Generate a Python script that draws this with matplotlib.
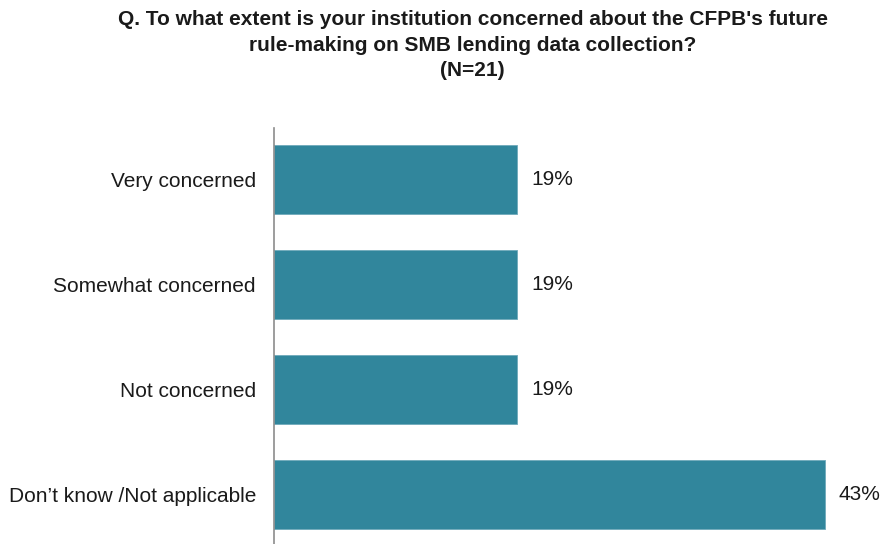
import matplotlib.pyplot as plt

# survey answers, top to bottom
categories = ['Very concerned', 'Somewhat concerned', 'Not concerned',
              "Don\u2019t know /Not applicable"]
shares = [19, 19, 19, 43]

title_text = ("Q. To what extent is your institution concerned about the CFPB's future\n"
              "rule-making on SMB lending data collection?\n(N=21)")

plt.rcParams['font.family'] = ['Liberation Sans', 'DejaVu Sans']

fig = plt.figure(figsize=(8.85, 5.44), dpi=100)
ax = fig.add_axes([0.3096, 0.0, 0.68, 0.765])

y = list(range(len(categories)))
ax.barh(y, shares, height=0.66, color='#31869C', edgecolor='#6FA9BA', linewidth=0.6)

for yi, v in zip(y, shares):
    ax.annotate(f'{v}%', (v, yi), xytext=(10, 0), textcoords='offset points',
                va='center', ha='left', fontsize=15, color='#1a1a1a')

ax.set_yticks(y)
ax.set_yticklabels(categories, fontsize=15, color='#1a1a1a')
ax.tick_params(axis='y', length=0, pad=13)
ax.set_xticks([])
ax.set_xlim(0, 47)
ax.set_ylim(3.47, -0.49)

for side in ['top', 'right', 'bottom']:
    ax.spines[side].set_visible(False)
ax.spines['left'].set_color('#8c8c8c')
ax.spines['left'].set_linewidth(1.2)

fig.text(0.534, 0.982, title_text, ha='center', va='top', fontsize=15,
         fontweight='bold', linespacing=1.45, color='#1a1a1a')

fig.savefig('out.png', dpi=100)
